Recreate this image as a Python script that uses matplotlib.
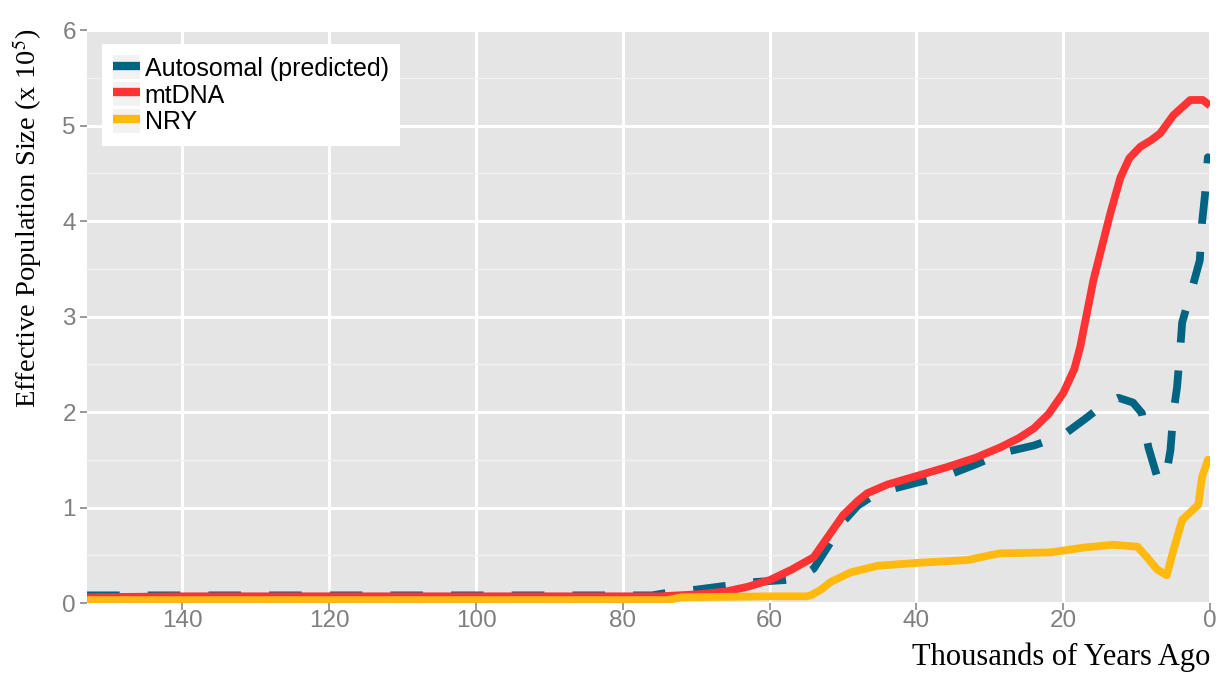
import numpy as np
import matplotlib.pyplot as plt
from matplotlib.lines import Line2D
from matplotlib.patches import Rectangle
from matplotlib.legend_handler import HandlerTuple

# thousands of years ago / effective population size (x 1e5)
auto_kya = [153, 145, 135, 125, 115, 105, 95, 85, 76, 73, 70, 66, 62, 58, 56, 54, 52, 50, 48, 46,
            43, 40, 36, 32, 28, 24, 20, 17, 14.5, 12.5, 10.5, 9.3, 8.4, 7.2, 6.1, 5.4, 5.0, 4.5,
            4.1, 3.8, 2.4, 1.4, 1.1, 0.7, 0.3, 0]
auto_ne = [0.08, 0.08, 0.08, 0.08, 0.08, 0.08, 0.08, 0.08, 0.08, 0.12, 0.14, 0.18, 0.22, 0.24,
           0.26, 0.36, 0.6, 0.85, 1.02, 1.12, 1.2, 1.26, 1.33, 1.45, 1.58, 1.65, 1.76, 1.93,
           2.08, 2.15, 2.1, 1.99, 1.63, 1.32, 1.29, 1.6, 1.99, 2.26, 2.63, 2.94, 3.31, 3.59,
           3.98, 4.27, 4.67, 4.64]

mt_kya = [153, 140, 120, 100, 80, 75, 70, 66, 63, 60, 57, 54, 52, 50, 48, 46.7, 44, 40, 36, 32,
          28.6, 26, 24, 22, 20, 18.5, 17.7, 15.9, 13.6, 12.2, 11, 9.5, 8, 6.8, 5, 2.7, 1, 0]
mt_ne = [0.06, 0.07, 0.07, 0.07, 0.07, 0.07, 0.09, 0.12, 0.17, 0.24, 0.35, 0.48, 0.7, 0.92,
         1.07, 1.15, 1.24, 1.33, 1.42, 1.52, 1.63, 1.73, 1.83, 1.98, 2.2, 2.45, 2.68, 3.38,
         4.08, 4.46, 4.66, 4.78, 4.85, 4.92, 5.11, 5.27, 5.27, 5.21]

nry_kya = [153, 120, 90, 76, 74, 72, 60, 55, 54.4, 53, 51.7, 49, 45.3, 40, 33, 30, 28.6, 21.8,
           17.3, 13.2, 11.5, 9.9, 8.6, 7.2, 5.9, 5, 3.8, 1.6, 1.1, 0.3, 0]
nry_ne = [0.03, 0.03, 0.03, 0.03, 0.03, 0.06, 0.07, 0.07, 0.08, 0.14, 0.22, 0.32, 0.39, 0.42,
          0.45, 0.5, 0.52, 0.53, 0.58, 0.61, 0.6, 0.59, 0.48, 0.35, 0.29, 0.55, 0.87, 1.03,
          1.32, 1.5, 1.5]

labels = ['Autosomal (predicted)', 'mtDNA', 'NRY']
colors = ['#006482', '#FF3333', '#FFB90F']

plt.rcParams['mathtext.fontset'] = 'stix'

fig = plt.figure(figsize=(12.31, 6.73), dpi=100)
ax = fig.add_axes([0.0707, 0.104, 0.9123, 0.851])
ax.set_facecolor('#E5E5E5')

# grid: major white, minor lighter
ax.set_xticks([140, 120, 100, 80, 60, 40, 20, 0])
ax.set_yticks(range(0, 7))
ax.set_yticks(np.arange(0.5, 6, 1.0), minor=True)
ax.grid(True, which='major', color='white', lw=2.2)
ax.grid(True, which='minor', axis='y', color='#F2F2F2', lw=1.0)
ax.set_axisbelow(True)

lw = 5.6
ax.plot(auto_kya, auto_ne, color=colors[0], lw=lw, dashes=(4.2, 3.6),
        dash_capstyle='butt', solid_joinstyle='round', zorder=3)
ax.plot(mt_kya, mt_ne, color=colors[1], lw=lw, solid_joinstyle='round',
        solid_capstyle='butt', zorder=4)
ax.plot(nry_kya, nry_ne, color=colors[2], lw=lw, solid_joinstyle='round',
        solid_capstyle='butt', zorder=5)

ax.set_xlim(153, 0)
ax.set_ylim(0, 6)

for s in ax.spines.values():
    s.set_visible(False)
ax.tick_params(which='major', length=5, width=1.1, color='#7F7F7F',
               labelcolor='#7F7F7F', labelsize=17.5)
ax.tick_params(axis='x', pad=0)
ax.tick_params(axis='y', pad=3)
ax.tick_params(which='minor', length=0)
for t in ax.get_xticklabels() + ax.get_yticklabels():
    t.set_fontfamily('Liberation Sans')

# legend with gray key backgrounds
handles = []
for c in colors:
    bg = Rectangle((0, 0), 1, 1, facecolor='#F2F2F2', edgecolor='none')
    ln = Line2D([], [], color=c, lw=6, solid_capstyle='butt')
    handles.append((bg, ln))
leg = ax.legend(handles, labels, handler_map={tuple: HandlerTuple(ndivide=1, pad=0)},
                loc='upper left', bbox_to_anchor=(0.0134, 0.976),
                prop={'family': 'Liberation Sans', 'size': 18},
                handlelength=1.05, handleheight=1.1, handletextpad=0.2,
                labelspacing=0.05, borderpad=0.45, borderaxespad=0,
                frameon=True, fancybox=False, framealpha=1)
leg.get_frame().set_edgecolor('white')
leg.get_frame().set_linewidth(0)

fig.text(0.983, 0.024, 'Thousands of Years Ago', ha='right', va='center',
         family='Liberation Serif', size=22)
fig.text(0.022, 0.958, 'Effective Population Size (x 10$^5$)', rotation=90,
         ha='center', va='top', family='Liberation Serif', size=20.5)

fig.savefig('out.png', dpi=100)
